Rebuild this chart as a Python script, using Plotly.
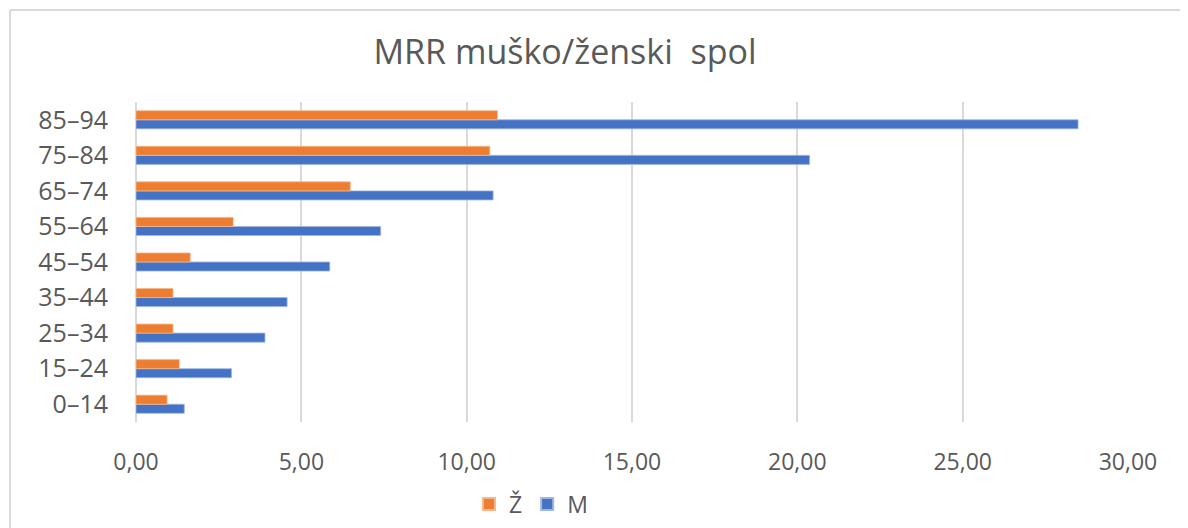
import plotly.graph_objects as go

categories = ["0–14", "15–24", "25–34", "35–44", "45–54", "55–64", "65–74", "75–84", "85–94"]
m_values = [1.46, 2.89, 3.90, 4.57, 5.86, 7.40, 10.80, 20.37, 28.49]
z_values = [0.94, 1.31, 1.12, 1.12, 1.64, 2.94, 6.48, 10.70, 10.93]
title_text = "MRR muško/ženski  spol"

FONT = "Open Sans"
TXT = "#595959"
GRID = "#d9d9d9"

fig = go.Figure()
fig.add_trace(go.Bar(y=categories, x=m_values, name="M", orientation="h",
                     marker=dict(color="#4472C4", line=dict(color="#9fb6e0", width=0.8))))
fig.add_trace(go.Bar(y=categories, x=z_values, name="Ž", orientation="h",
                     marker=dict(color="#ED7D31", line=dict(color="#f5b88e", width=0.8))))

# page body has an 8px default margin; positions below are in figure pixels
OFF = 8
W, H = 1180, 520
L, R, T, B = 136 - OFF, W - (1128 - OFF), 102 - OFF, H - (422 - OFF)
pw, ph = W - L - R, H - T - B

def px_x(p):
    return (p - OFF - L) / pw

def px_y(p):
    return (H - B - (p - OFF)) / ph

fig.update_layout(
    width=W, height=H,
    margin=dict(l=L, r=R, t=T, b=B, autoexpand=False),
    paper_bgcolor="white", plot_bgcolor="white",
    separators=", ",
    barmode="group", bargap=0.49, bargroupgap=0,
    font=dict(family=FONT, color=TXT, size=22),
    title=dict(text=title_text, x=(565 - OFF) / W, xanchor="center", y=1 - (52 - OFF) / H,
               yanchor="middle", yref="container", font=dict(family=FONT, size=34, color=TXT)),
    xaxis=dict(range=[0, 30], dtick=5, tick0=0, tickformat=".2f", showgrid=True,
               gridcolor=GRID, gridwidth=2, zeroline=True, zerolinecolor=GRID, zerolinewidth=2,
               showline=False, ticks="", ticklabelstandoff=24, automargin=False,
               tickfont=dict(family=FONT, size=23, color=TXT)),
    yaxis=dict(showgrid=False, showline=False, ticks="", ticklabelstandoff=27, automargin=False,
               tickfont=dict(family=FONT, size=25, color=TXT)),
    legend=dict(orientation="h", traceorder="reversed", x=px_x(531), xanchor="center",
                y=px_y(504), yanchor="middle", font=dict(family=FONT, size=23, color=TXT),
                itemwidth=30, itemsizing="constant"),
    showlegend=True,
)

# outer chart border (top and left visible in the reference)
fig.add_shape(type="line", xref="paper", yref="paper", x0=px_x(10), x1=px_x(1300),
              y0=px_y(10), y1=px_y(10), line=dict(color=GRID, width=2))
fig.add_shape(type="line", xref="paper", yref="paper", x0=px_x(10), x1=px_x(10),
              y0=px_y(10), y1=px_y(700), line=dict(color=GRID, width=2))

fig.write_html("out.html")
